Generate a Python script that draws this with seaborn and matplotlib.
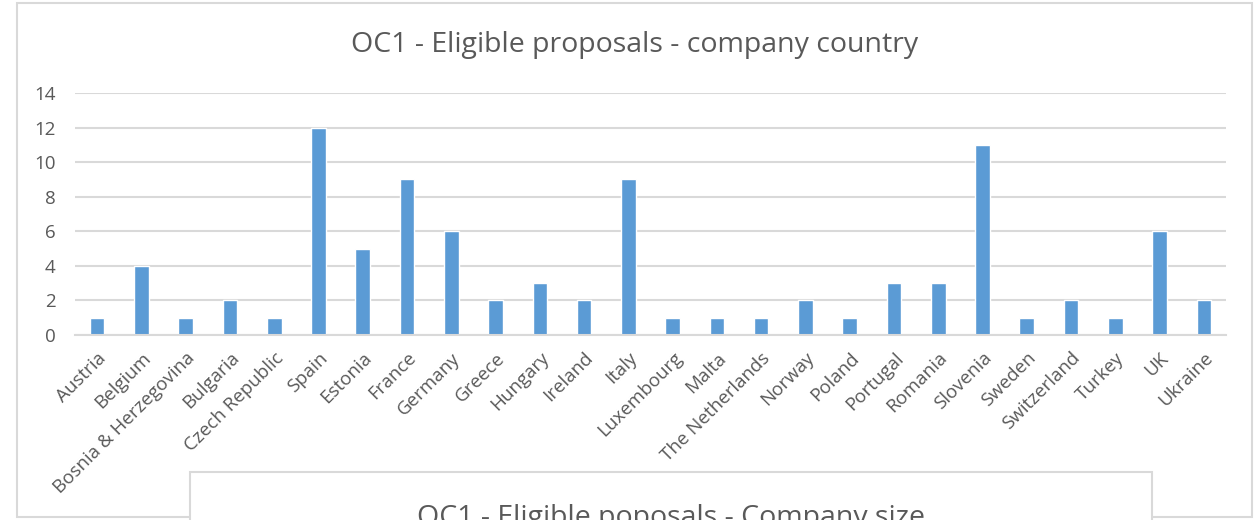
import matplotlib
matplotlib.use("Agg")
import matplotlib.pyplot as plt
from matplotlib.patches import Rectangle
import pandas as pd
import seaborn as sns

countries = ["Austria", "Belgium", "Bosnia & Herzegovina", "Bulgaria", "Czech Republic",
             "Spain", "Estonia", "France", "Germany", "Greece", "Hungary", "Ireland",
             "Italy", "Luxembourg", "Malta", "The Netherlands", "Norway", "Poland",
             "Portugal", "Romania", "Slovenia", "Sweden", "Switzerland", "Turkey",
             "UK", "Ukraine"]
proposals = [1, 4, 1, 2, 1, 12, 5, 9, 6, 2, 3, 2, 9, 1, 1, 1, 2, 1, 3, 3, 11, 1, 2, 1, 6, 2]
yticks = [0, 2, 4, 6, 8, 10, 12, 14]

title = "OC1 - Eligible proposals - company country"
next_title = "OC1 - Eligible poposals - Company size"

sns.set_style("white")
plt.rcParams["font.family"] = ["Open Sans", "DejaVu Sans"]

txt = "#595959"
grid = "#d9d9d9"
W, H = 1255, 520

fig = plt.figure(figsize=(W / 100, H / 100), dpi=100)

# chart box borders (excel style)
fig.patches.append(Rectangle((17 / W, 3 / H), 1235 / W, 514 / H, transform=fig.transFigure,
                             fill=False, edgecolor=grid, lw=1.5, zorder=0))

ax = fig.add_axes([75 / W, 1 - 335 / H, 1151 / W, 242 / H])
df = pd.DataFrame({"country": countries, "n": proposals})
sns.barplot(data=df, x="country", y="n", color="#5b9bd5", saturation=1, width=0.33, ax=ax)

ax.set_ylim(0, 14)
ax.set_yticks(yticks)
ax.set_xlim(-0.5, len(countries) - 0.5)
ax.yaxis.grid(True, color=grid, lw=1.5)
ax.set_axisbelow(True)
for s in ["top", "right", "left"]:
    ax.spines[s].set_visible(False)
ax.spines["bottom"].set_color(grid)
ax.spines["bottom"].set_linewidth(1.5)
ax.set_xlabel("")
ax.set_ylabel("")
ax.tick_params(axis="both", length=0, colors=txt, labelsize=13.5)
ax.tick_params(axis="y", pad=14)
ax.tick_params(axis="x", pad=10)
plt.setp(ax.get_xticklabels(), rotation=45, ha="right", rotation_mode="anchor")

fig.text(635 / W, 1 - 45 / H, title, ha="center", va="center", fontsize=20.5, color=txt)

# top of the next chart, cut off by the image edge
fig.patches.append(Rectangle((190 / W, -10 / H), 962 / W, 58 / H, transform=fig.transFigure,
                             facecolor="white", edgecolor=grid, lw=1.5, zorder=5))
fig.text(671 / W, 1 - 504 / H, next_title, ha="center", va="top", fontsize=20.5, color=txt, zorder=6)

fig.savefig("out.png", dpi=100)
